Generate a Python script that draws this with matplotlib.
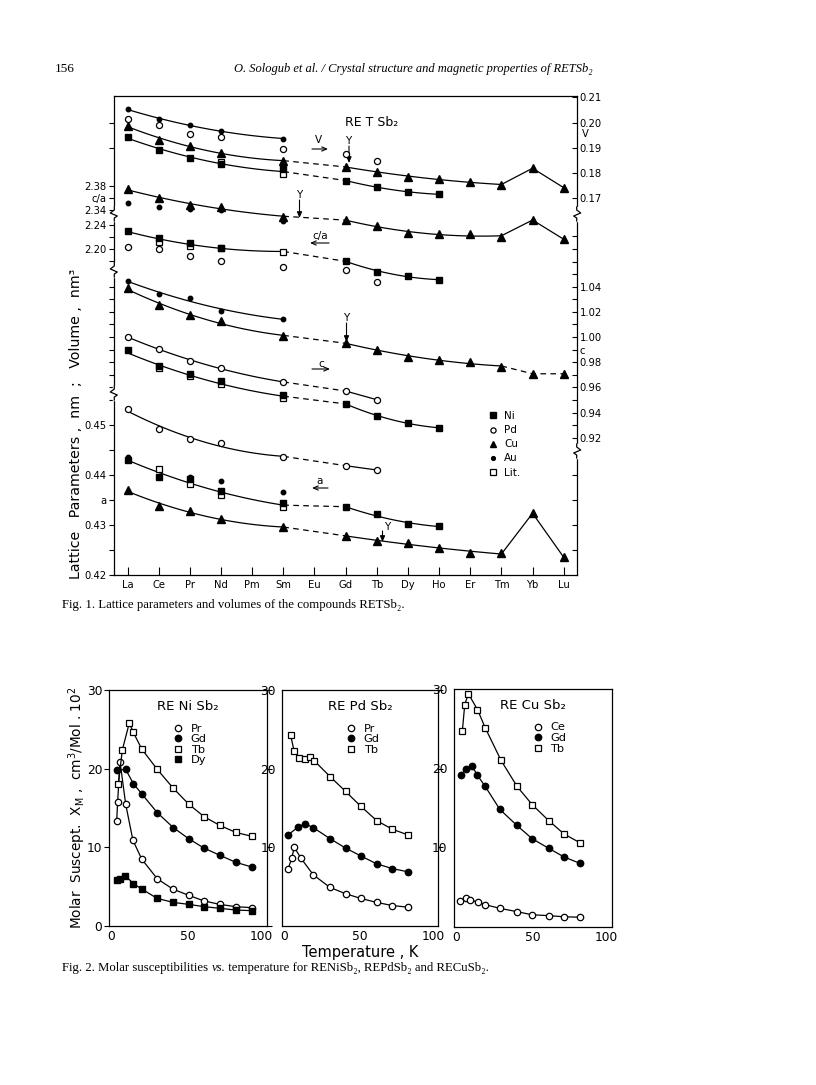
import numpy as np
import matplotlib
matplotlib.use("Agg")
import matplotlib.pyplot as plt
from matplotlib.transforms import ScaledTranslation

plt.rcParams['font.family'] = ['DejaVu Sans']
nan = np.nan

# ---------------- Fig. 1 data : RETSb2 lattice parameters ----------------
elements = ['La', 'Ce', 'Pr', 'Nd', 'Pm', 'Sm', 'Eu', 'Gd', 'Tb', 'Dy', 'Ho', 'Er', 'Tm', 'Yb', 'Lu']

# cell volume V (nm^3)
V_Au = [0.2054, 0.2013, 0.1989, 0.1968, nan, 0.1936, nan, nan, nan, nan, nan, nan, nan, nan, nan]
V_Pd = [0.2014, 0.1991, 0.1956, 0.1944, nan, 0.1896, nan, 0.1875, 0.1848, nan, nan, nan, nan, nan, nan]
V_Cu = [0.1988, 0.1931, 0.1908, 0.1881, nan, 0.1848, nan, 0.1825, 0.1805, 0.1783, 0.1778, 0.1765, 0.1753, 0.1819, 0.1742]
V_Ni = [0.1942, 0.1891, 0.1861, 0.1836, nan, 0.1815, nan, 0.1770, 0.1745, 0.1725, 0.1716, nan, nan, nan, nan]
V_Lit = [nan, nan, nan, 0.1845, nan, 0.1795, nan, nan, nan, nan, nan, nan, nan, nan, nan]

# axial ratio c/a
CA_Cu = [2.375, 2.3595, 2.3483, 2.3455, nan, 2.3288, nan, 2.3233, 2.3133, 2.3012, 2.2995, 2.2995, 2.2955, 2.3233, 2.2912]
CA_Au = [2.3512, 2.3455, 2.3412, 2.340, nan, 2.3222, nan, nan, nan, nan, nan, nan, nan, nan, nan]
CA_Ni = [2.2305, 2.2188, 2.2105, 2.2022, nan, nan, nan, 2.180, 2.1622, 2.1555, 2.1483, nan, nan, nan, nan]
CA_Lit = [nan, 2.2122, 2.2055, 2.2012, nan, 2.1955, nan, nan, nan, nan, nan, nan, nan, nan, nan]
CA_Pd = [2.2038, 2.200, 2.1883, 2.180, nan, 2.1695, nan, 2.165, 2.1455, nan, nan, nan, nan, nan, nan]

# lattice parameter c (nm)
C_Au = [1.0445, 1.0344, 1.031, 1.0207, nan, 1.0143, nan, nan, nan, nan, nan, nan, nan, nan, nan]
C_Cu = [1.039, 1.0251, 1.0172, 1.0127, nan, 1.0008, nan, 0.9955, 0.9893, 0.9841, 0.982, 0.9801, 0.9762, 0.9708, 0.9708]
C_Pd = [1.000, 0.9907, 0.9809, 0.9756, nan, 0.9642, nan, 0.9571, 0.9502, nan, nan, nan, nan, nan, nan]
C_Ni = [0.9893, 0.9769, 0.9703, 0.965, nan, 0.9536, nan, 0.947, 0.9372, 0.9319, 0.9277, nan, nan, nan, nan]
C_Lit = [nan, 0.9754, 0.969, 0.9629, nan, 0.9517, nan, nan, nan, nan, nan, nan, nan, nan, nan]

# lattice parameter a (nm)
A_Pd = [0.4532, 0.4492, 0.4472, 0.44646, nan, 0.44354, nan, 0.44186, 0.4410, nan, nan, nan, nan, nan, nan]
A_Ni = [0.4430, 0.43966, 0.43914, 0.4368, nan, 0.43446, nan, 0.43354, 0.43214, 0.43014, 0.4298, nan, nan, nan, nan]
A_Lit = [nan, 0.44114, 0.43814, 0.4360, nan, 0.43354, nan, nan, nan, nan, nan, nan, nan, nan, nan]
A_Au = [0.4436, nan, 0.43954, 0.4388, nan, 0.43666, nan, nan, nan, nan, nan, nan, nan, nan, nan]
A_Cu = [0.4370, 0.4338, 0.43286, 0.4312, nan, 0.42954, nan, 0.4278, 0.42686, 0.42634, 0.42546, 0.42446, 0.42434, 0.43234, 0.42354]

# ---------------- Fig. 2 data : molar susceptibility ----------------
T_Ni_Pr = [4.7, 5.3, 6.8, 10.4, 15.0, 20.6, 30.5, 40.3, 50.4, 60.0, 70.1, 80.3, 90.5]
X_Ni_Pr = [13.4, 15.8, 20.9, 15.5, 10.9, 8.5, 6.0, 4.7, 3.9, 3.2, 2.75, 2.46, 2.33]
T_Ni_Gd = [4.7, 10.4, 15.3, 20.6, 30.5, 40.7, 50.4, 60.2, 70.1, 80.3, 90.5]
X_Ni_Gd = [19.8, 19.9, 18.1, 16.8, 14.4, 12.5, 11.1, 9.9, 9.0, 8.1, 7.5]
T_Ni_Tb = [5.7, 8.3, 12.7, 15.3, 20.6, 30.5, 40.7, 50.4, 60.2, 70.1, 80.3, 90.5]
X_Ni_Tb = [18.05, 22.4, 25.8, 24.6, 22.5, 19.9, 17.5, 15.5, 13.9, 12.8, 11.9, 11.4]
T_Ni_Dy = [4.7, 6.8, 10.0, 15.3, 20.6, 30.5, 40.7, 50.4, 60.2, 70.1, 80.3, 90.5]
X_Ni_Dy = [5.9, 6.0, 6.4, 5.4, 4.7, 3.5, 3.0, 2.75, 2.46, 2.25, 2.03, 1.95]

T_Pd_Tb = [5.3, 7.5, 10.7, 14.5, 17.7, 20.5, 30.6, 40.6, 50.4, 60.5, 70.5, 80.3]
X_Pd_Tb = [24.3, 22.3, 21.3, 21.2, 21.5, 21.0, 19.0, 17.1, 15.2, 13.4, 12.3, 11.6]
T_Pd_Gd = [3.8, 10.3, 14.5, 19.9, 30.6, 40.6, 50.4, 60.5, 70.5, 80.3]
X_Pd_Gd = [11.6, 12.6, 13.0, 12.5, 11.1, 9.9, 8.9, 7.9, 7.3, 6.9]
T_Pd_Pr = [3.8, 6.0, 7.7, 12.0, 19.9, 30.6, 40.6, 50.4, 60.5, 70.5, 80.3]
X_Pd_Pr = [7.3, 8.6, 10.0, 8.6, 6.5, 4.9, 4.1, 3.5, 3.0, 2.6, 2.4]

T_Cu_Tb = [5.3, 6.8, 9.1, 14.9, 19.8, 29.8, 40.0, 49.6, 60.0, 69.8, 79.8]
X_Cu_Tb = [24.7, 28.0, 29.4, 27.4, 25.1, 21.0, 17.7, 15.4, 13.4, 11.7, 10.6]
T_Cu_Gd = [4.3, 7.4, 11.3, 14.9, 19.8, 29.1, 39.8, 49.6, 60.0, 69.8, 79.8]
X_Cu_Gd = [19.1, 19.9, 20.3, 19.1, 17.7, 14.8, 12.8, 11.1, 9.9, 8.8, 8.0]
T_Cu_Ce = [4.1, 7.5, 10.0, 15.0, 19.4, 29.4, 40.0, 49.6, 60.0, 69.8, 79.8]
X_Cu_Ce = [3.3, 3.6, 3.4, 3.1, 2.8, 2.3, 1.9, 1.5, 1.4, 1.25, 1.2]

# ---------------- layout helpers ----------------
W, H = 816, 1085
fig = plt.figure(figsize=(W / 100, H / 100), dpi=100)
SERIF = ['Liberation Serif', 'DejaVu Serif']


def box(l, t, r, b):
    return [l / W, 1 - b / H, (r - l) / W, (b - t) / H]


def fpx(x, y):
    return (x / W, 1 - y / H)


F1 = (114.3, 96, 576.7, 575)
POS1 = box(*F1)
X0, DX = 127.5, 31.16
XLIM1 = ((F1[0] - X0) / DX, (F1[2] - X0) / DX)


def lim_from(p1, v1, p2, v2):
    s = (v1 - v2) / (p2 - p1)
    return (v1 - (F1[3] - p1) * s, v1 + (p1 - F1[1]) * s)


LIM_V = lim_from(97.3, 0.21, 198.3, 0.17)
LIM_CAU = lim_from(186, 2.38, 210, 2.34)
LIM_CAL = lim_from(225, 2.24, 249, 2.20)
LIM_C = lim_from(286.7, 1.04, 437.7, 0.92)
LIM_A = lim_from(575, 0.42, 425, 0.45)


def layer(ylim):
    ax = fig.add_axes(POS1)
    ax.set_xlim(XLIM1)
    ax.set_ylim(ylim)
    ax.patch.set_visible(False)
    for s in ax.spines.values():
        s.set_visible(False)
    ax.set_xticks([])
    ax.set_yticks([])
    return ax


def ticker(ylim, side, locs, labels=None, direction='out', length=3.6):
    ax = layer(ylim)
    ax.set_yticks(locs)
    ax.set_yticklabels(labels if labels is not None else [''] * len(locs))
    if side == 'right':
        ax.yaxis.tick_right()
    ax.tick_params(axis='y', direction=direction, length=length, width=0.8,
                   labelsize=7.2, pad=2)
    return ax


# main frame
ax0 = fig.add_axes(POS1)
ax0.set_xlim(XLIM1)
ax0.set_ylim(0, 1)
ax0.set_yticks([])
ax0.set_xticks(range(len(elements)))
ax0.set_xticklabels(elements)
ax0.tick_params(axis='x', direction='in', length=6, width=0.8, labelsize=7.2, pad=3.5)
for s in ax0.spines.values():
    s.set_linewidth(0.9)

# tick sets
ticker(LIM_V, 'left', [0.20, 0.19])
ticker(LIM_CAU, 'left', [2.38, 2.36, 2.34], ['2.38', 'c/a', '2.34'])
ticker(LIM_CAL, 'left', [2.24, 2.22, 2.20, 2.18], ['2.24', '', '2.20', ''])
ticker(LIM_C, 'left', list(np.arange(0.96, 1.045, 0.01)))
ticker(LIM_A, 'left', [0.42, 0.425, 0.43, 0.435, 0.44, 0.445, 0.45, 0.455],
       ['0.42', '', '0.43', 'a', '0.44', '', '0.45', ''])
axVr = ticker(LIM_V, 'right', [0.21, 0.20, 0.19, 0.18, 0.17],
              ['0.21', '0.20', '0.19', '0.18', '0.17'], direction='in')
axVr.text(1.012, 0.1953, 'V', transform=axVr.get_yaxis_transform(), fontsize=7.2,
          ha='left', va='center')
cl = np.round(np.arange(0.92, 1.085, 0.01), 2)
clab = [('%.2f' % v) if (round(v * 100) % 2 == 0 and v < 1.05) else '' for v in cl]
clab = ['c' if abs(v - 0.99) < 1e-6 else s for v, s in zip(cl, clab)]
ticker(LIM_C, 'right', list(cl), clab, direction='in')
ticker(LIM_A, 'right', [0.425, 0.43, 0.435, 0.44], direction='in')

# data layers
axV = layer(LIM_V)
axCAU = layer(LIM_CAU)
axCAL = layer(LIM_CAL)
axC = layer(LIM_C)
axA = layer(LIM_A)

IDX = np.arange(len(elements))
LINE = dict(color='k', lw=0.9, ls='-', zorder=1)
DASH = dict(color='k', lw=0.9, ls=(0, (4.5, 3.5)), zorder=1)
NI = dict(marker='s', ms=4.8, mfc='k', mec='k', ls='none', zorder=4)
PD = dict(marker='o', ms=4.4, mfc='white', mec='k', mew=0.9, ls='none', zorder=3)
CU = dict(marker='^', ms=5.2, mfc='k', mec='k', ls='none', zorder=4)
AU = dict(marker='o', ms=3.2, mfc='k', mec='k', ls='none', zorder=5)
LIT = dict(marker='s', ms=4.9, mfc='white', mec='k', mew=0.9, ls='none', zorder=3)


def trend(ax, main, lit=None, seg2=None, tail=None, tail_dashed=False):
    main = np.asarray(main, float)
    arrs = [main] + ([np.asarray(lit, float)] if lit is not None else [])

    def pts(lo, hi):
        xs, ys = [], []
        for arr in arrs:
            sel = (IDX >= lo) & (IDX <= hi) & np.isfinite(arr)
            xs += list(IDX[sel])
            ys += list(arr[sel])
        return np.array(xs, float), np.array(ys, float)

    x1, y1 = pts(0, 5)
    p1 = np.polyfit(x1, y1, 2)
    xx = np.linspace(0, 5, 80)
    ax.plot(xx, np.polyval(p1, xx), **LINE)
    if seg2 is None:
        return
    x2, y2 = pts(7, seg2)
    p2 = np.polyfit(x2, y2, 2 if len(x2) > 2 else 1)
    xx2 = np.linspace(7, seg2, 80)
    ax.plot(xx2, np.polyval(p2, xx2), **LINE)
    ax.plot([5, 7], [np.polyval(p1, 5), np.polyval(p2, 7)], **DASH)
    if tail is not None:
        tx = IDX[seg2:tail + 1]
        ty = main[seg2:tail + 1].copy()
        ty[0] = np.polyval(p2, seg2)
        ax.plot(tx, ty, **(DASH if tail_dashed else LINE))


def pts_plot(ax, arr, style, label=None):
    return ax.plot(IDX, arr, label=label, **style)[0]


# volume
trend(axV, V_Au)
trend(axV, V_Cu, seg2=12, tail=14)
trend(axV, V_Ni, V_Lit, seg2=10)
pts_plot(axV, V_Lit, LIT); pts_plot(axV, V_Ni, NI); pts_plot(axV, V_Pd, PD)
pts_plot(axV, V_Cu, CU); pts_plot(axV, V_Au, AU)
# c/a
trend(axCAU, CA_Cu, seg2=12, tail=14)
trend(axCAL, CA_Ni, CA_Lit, seg2=10)
pts_plot(axCAU, CA_Au, AU); pts_plot(axCAU, CA_Cu, CU)
pts_plot(axCAL, CA_Lit, LIT); pts_plot(axCAL, CA_Ni, NI); pts_plot(axCAL, CA_Pd, PD)
# c
trend(axC, C_Au)
trend(axC, C_Cu, seg2=12, tail=14, tail_dashed=True)
trend(axC, C_Pd, seg2=8)
trend(axC, C_Ni, C_Lit, seg2=10)
pts_plot(axC, C_Lit, LIT); pts_plot(axC, C_Ni, NI); pts_plot(axC, C_Pd, PD)
pts_plot(axC, C_Cu, CU); pts_plot(axC, C_Au, AU)
# a
trend(axA, A_Pd, seg2=8)
trend(axA, A_Ni, A_Lit, seg2=10)
trend(axA, A_Cu, seg2=12, tail=14)
h_lit = pts_plot(axA, A_Lit, LIT, 'Lit.')
h_ni = pts_plot(axA, A_Ni, NI, 'Ni')
h_pd = pts_plot(axA, A_Pd, PD, 'Pd')
h_cu = pts_plot(axA, A_Cu, CU, 'Cu')
h_au = pts_plot(axA, A_Au, AU, 'Au')

leg = axA.legend([h_ni, h_pd, h_cu, h_au, h_lit], ['Ni', 'Pd', 'Cu', 'Au', 'Lit.'],
                 loc='upper left', bbox_to_anchor=fpx(487.5, 411), bbox_transform=fig.transFigure,
                 frameon=False, fontsize=7.5, handlelength=1.0, handletextpad=0.6,
                 borderpad=0, borderaxespad=0, labelspacing=0.4, markerscale=0.85)

# axis breaks (zig-zags on the spines)
def brk(x, y, side=-1):
    fig.add_artist(plt.Line2D([x / W, x / W], [1 - (y - 6) / H, 1 - (y + 6) / H],
                              color='white', lw=2.5, transform=fig.transFigure, zorder=10))
    xs = [x, x, x + 4 * side, x - 3 * side, x, x]
    ys = [y - 7, y - 4, y - 1, y + 2, y + 4, y + 7]
    fig.add_artist(plt.Line2D([v / W for v in xs], [1 - v / H for v in ys], color='k', lw=0.9,
                              transform=fig.transFigure, zorder=11))


for yb in (214, 270, 393):
    brk(F1[0], yb)
for yb in (214, 451):
    brk(F1[2], yb, side=1)

# annotations inside Fig. 1
def ftext(x, y, s, **kw):
    kw.setdefault('fontsize', 7.5)
    kw.setdefault('ha', 'center')
    kw.setdefault('va', 'center')
    return fig.text(*fpx(x, y), s, **kw)


def farrow(x1, y1, x2, y2, style='-|>', lw=0.8):
    ax0.annotate('', xy=(x2, H - y2), xytext=(x1, H - y1), xycoords='figure pixels',
                 textcoords='figure pixels',
                 arrowprops=dict(arrowstyle=style + ',head_length=0.35,head_width=0.15',
                                 lw=lw, color='k', shrinkA=0, shrinkB=0))


ftext(372, 123, 'RE T Sb₂', fontsize=9)
# Y markers
for (xt, yt, ya1, ya2) in [(348.5, 141, 146, 163), (299, 195, 200, 218), (346, 318, 323, 342)]:
    ftext(xt, yt, 'Y', fontsize=7.5)
    farrow(xt + 0.5, ya1, xt + 0.5, ya2)
ftext(387, 527, 'Y', fontsize=7.5)
farrow(382.5, 531, 382.5, 542)
# section labels
ftext(318, 140, 'V'); farrow(312, 149, 328, 149, style='->')
ftext(320, 236, 'c/a'); farrow(329, 243, 310, 243, style='->')
ftext(321, 364, 'c'); farrow(312, 369, 330, 369, style='->')
ftext(320, 481, 'a'); farrow(328, 488, 312, 488, style='->')

fig.text(*fpx(76, 424), 'Lattice   Parameters ,  nm  ;   Volume ,  nm³', rotation=90,
         fontsize=10.2, ha='center', va='center')

# ---------------- Fig. 2 ----------------
OC = dict(marker='o', ms=4.6, mfc='white', mec='k', mew=0.9)
FC = dict(marker='o', ms=4.6, mfc='k', mec='k')
OS = dict(marker='s', ms=5.0, mfc='white', mec='k', mew=0.9)
FS = dict(marker='s', ms=4.8, mfc='k', mec='k')
L2 = dict(color='k', lw=0.9)

panels = [
    (box(109.3, 690, 266.7, 926), 'RE Ni Sb₂',
     [('Pr', T_Ni_Pr, X_Ni_Pr, OC), ('Gd', T_Ni_Gd, X_Ni_Gd, FC),
      ('Tb', T_Ni_Tb, X_Ni_Tb, OS), ('Dy', T_Ni_Dy, X_Ni_Dy, FS)], (178.5, 723.5)),
    (box(282.3, 690, 438.3, 926), 'RE Pd Sb₂',
     [('Pr', T_Pd_Pr, X_Pd_Pr, OC), ('Gd', T_Pd_Gd, X_Pd_Gd, FC),
      ('Tb', T_Pd_Tb, X_Pd_Tb, OS)], (351.7, 723.5)),
    (box(454, 689, 611.7, 926.7), 'RE Cu Sb₂',
     [('Ce', T_Cu_Ce, X_Cu_Ce, OC), ('Gd', T_Cu_Gd, X_Cu_Gd, FC),
      ('Tb', T_Cu_Tb, X_Cu_Tb, OS)], (538, 722.5)),
]
for k, (pos, title, series, legxy) in enumerate(panels):
    ax = fig.add_axes(pos)
    ax.set_xlim(0, 100)
    ax.set_ylim(0, 30)
    for s in ax.spines.values():
        s.set_linewidth(0.9)
    hs = []
    for name, T, X, st in series:
        h, = ax.plot(T, X, ls='-', **L2, **st)
        hs.append(h)
    ax.set_xticks([0, 50, 100])
    ax.set_xticklabels(['0', '50', '100'])
    ax.tick_params(axis='x', length=0, labelsize=8.8, pad=3)
    xl = ax.get_xticklabels()
    xl[0].set_transform(xl[0].get_transform() + ScaledTranslation(0.02, 0, fig.dpi_scale_trans))
    xl[-1].set_transform(xl[-1].get_transform() + ScaledTranslation(-0.05, 0, fig.dpi_scale_trans))
    if k == 0:
        ax.set_yticks([0, 10, 20, 30])
        ax.tick_params(axis='y', left=True, right=True, direction='out', length=3.5,
                       labelsize=8.8, pad=1.5)
    else:
        ax.set_yticks([10, 20, 30])
        ax.tick_params(axis='y', left=False, right=(k == 1), direction='out', length=3.5,
                       labelsize=8.8, pad=1.2)
    ax.text(0.5, 0.93, title, transform=ax.transAxes, fontsize=9.5, ha='center', va='center')
    ax.legend(hs, [s[0] for s in series], loc='upper left',
              bbox_to_anchor=fpx(legxy[0] - 5, legxy[1]), bbox_transform=fig.transFigure,
              frameon=False, fontsize=8.2, handlelength=0.8, handletextpad=0.7,
              borderpad=0, borderaxespad=0, labelspacing=0.05)
    for h in ax.get_legend().legend_handles:
        h.set_linestyle('none')

fig.text(*fpx(360, 953), 'Temperature , K', fontsize=10.5, ha='center', va='center')
fig.text(*fpx(77, 808), 'Molar  Suscept.  X$_\\mathregular{M}$ ,  cm$^\\mathregular{3}$/Mol . 10$^\\mathregular{2}$',
         rotation=90, fontsize=9.8, ha='center', va='center')

# ---------------- page header and captions ----------------
fig.text(*fpx(55, 69), '156', fontsize=9.5, family=SERIF, va='center', ha='left')
fig.text(*fpx(413, 69), 'O. Sologub et al. / Crystal structure and magnetic properties of RETSb₂',
         fontsize=9, family=SERIF, style='italic', va='center', ha='center')
fig.text(*fpx(62, 605), 'Fig. 1. Lattice parameters and volumes of the compounds RETSb₂.',
         fontsize=9.2, family=SERIF, va='center', ha='left')

renderer = fig.canvas.get_renderer()
parts = [('Fig. 2. Molar susceptibilities ', 'normal'), ('vs.', 'italic'),
         (' temperature for RENiSb₂, REPdSb₂ and RECuSb₂.', 'normal')]
xcur = 62
for txt, sty in parts:
    t = fig.text(*fpx(xcur, 968), txt, fontsize=9.2, family=SERIF, style=sty, va='center', ha='left')
    bb = t.get_window_extent(renderer)
    xcur += bb.width

fig.savefig('out.png', dpi=100, facecolor='white')
